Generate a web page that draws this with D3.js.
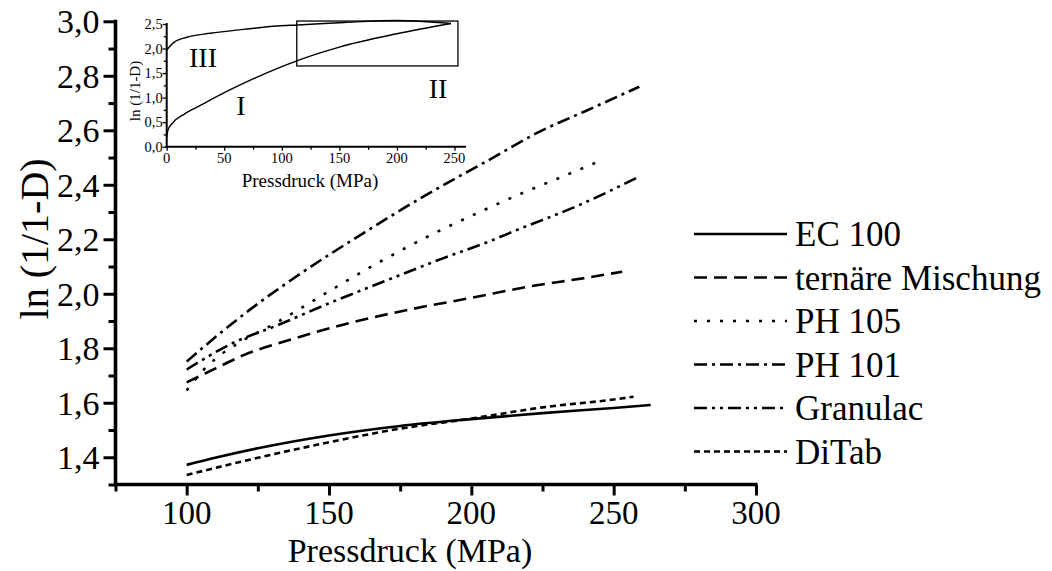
<!DOCTYPE html>
<html>
<head>
<meta charset="utf-8">
<script src="https://cdn.jsdelivr.net/npm/d3@7"></script>
<style>
  html, body { margin: 0; padding: 0; background: #fff; }
  svg { display: block; }
  text { font-family: "Liberation Serif", "Times New Roman", serif; fill: #000; }
</style>
</head>
<body>
<svg id="chart" width="1052" height="571"></svg>
<script>
// ---- data: ln(1/(1-D)) vs. compaction pressure (MPa) ----
const seriesNames = ["EC 100", "ternäre Mischung", "PH 105", "PH 101", "Granulac", "DiTab"];

const ec100P   = [100, 110, 125, 150, 175, 200, 225, 250, 263];
const ec100V   = [1.372, 1.398, 1.433, 1.480, 1.515, 1.540, 1.562, 1.581, 1.592];

const ternaerP = [100, 110, 120, 136, 157, 183, 200, 220, 240, 253];
const ternaerV = [1.675, 1.725, 1.775, 1.830, 1.892, 1.952, 1.985, 2.026, 2.058, 2.081];

const ph105P   = [100, 105, 110, 120, 130, 142, 155, 168, 187, 204, 218, 232, 246];
const ph105V   = [1.645, 1.710, 1.760, 1.830, 1.885, 1.959, 2.040, 2.118, 2.222, 2.305, 2.370, 2.430, 2.491];

const ph101P   = [100, 110, 122, 141, 162, 184, 206, 224, 240, 259];
const ph101V   = [1.751, 1.840, 1.940, 2.081, 2.222, 2.362, 2.490, 2.595, 2.670, 2.760];

const granP    = [100, 116, 132, 150, 169, 190, 206, 216, 238, 259];
const granV    = [1.722, 1.818, 1.885, 1.965, 2.044, 2.130, 2.191, 2.234, 2.326, 2.430];

const ditabP   = [100, 125, 150, 175, 200, 225, 250, 257];
const ditabV   = [1.335, 1.398, 1.455, 1.505, 1.542, 1.583, 1.612, 1.622];

// inset: full compaction cycle (loading branch I, unloading branch III)
const loadP    = [0, 1, 5, 15, 30, 50, 75, 100, 113, 150, 200, 247];
const loadV    = [0.20, 0.33, 0.48, 0.66, 0.85, 1.10, 1.38, 1.63, 1.75, 2.03, 2.30, 2.51];
const unloadP  = [0, 6, 17.5, 38, 67, 96, 114, 154, 200, 247];
const unloadV  = [1.97, 2.12, 2.23, 2.31, 2.39, 2.46, 2.48, 2.53, 2.57, 2.51];
const zoomBoxP = [113, 253];
const zoomBoxV = [1.645, 2.56];

const xTicksMain = [100, 150, 200, 250, 300];
const yTicksMain = [1.4, 1.6, 1.8, 2.0, 2.2, 2.4, 2.6, 2.8, 3.0];
const xTicksInset = [0, 50, 100, 150, 200, 250];
const yTicksInset = [0, 0.5, 1.0, 1.5, 2.0, 2.5];

const dashes = {
  "EC 100": null,
  "ternäre Mischung": "13,7",
  "PH 105": "3,10",
  "PH 101": "13,5,3,5",
  "Granulac": "13,5,3,5,3,5",
  "DiTab": "6,4"
};

const series = [
  { name: "EC 100", p: ec100P, v: ec100V },
  { name: "ternäre Mischung", p: ternaerP, v: ternaerV },
  { name: "PH 105", p: ph105P, v: ph105V },
  { name: "PH 101", p: ph101P, v: ph101V },
  { name: "Granulac", p: granP, v: granV },
  { name: "DiTab", p: ditabP, v: ditabV }
];

const comma = d3.formatLocale({ decimal: ",", thousands: ".", grouping: [3], currency: ["", "€"] });
const f1 = comma.format(".1f");

const svg = d3.select("#chart");
svg.append("rect").attr("width", 1052).attr("height", 571).attr("fill", "#fff");

// ---- main plot ----
const x = d3.scaleLinear().domain([75, 300]).range([115.5, 756]);
const y = d3.scaleLinear().domain([1.3, 3.0]).range([484.5, 21.3]);

const main = svg.append("g");

const line = d3.line().x(d => x(d[0])).y(d => y(d[1])).curve(d3.curveMonotoneX);

series.forEach(s => {
  main.append("path")
    .datum(s.p.map((p, i) => [p, s.v[i]]))
    .attr("d", line)
    .attr("fill", "none")
    .attr("stroke", "#000")
    .attr("stroke-width", 2.6)
    .attr("stroke-dasharray", dashes[s.name]);
});

// x axis
const xAxisG = main.append("g").attr("transform", `translate(0,${y(1.3)})`);
xAxisG.call(d3.axisBottom(x).tickValues(d3.range(75, 301, 25)).tickSize(11).tickFormat(""))
  .call(g => g.selectAll(".tick line").attr("stroke-width", 3)
    .attr("y2", d => (d % 50 === 0 ? 11 : 7)))
  .call(g => g.select(".domain").attr("stroke-width", 3.6).attr("d", `M${x(75) - 1.5},0H${x(300) + 1.5}`));
xAxisG.selectAll("text.lbl").data(xTicksMain).enter().append("text")
  .attr("class", "lbl")
  .attr("x", d => x(d)).attr("y", 524 - y(1.3))
  .attr("text-anchor", "middle").attr("font-size", 33)
  .text(d => d);

// y axis
const yAxisG = main.append("g").attr("transform", `translate(${x(75)},0)`);
yAxisG.call(d3.axisLeft(y).tickValues(d3.range(13, 31).map(v => v / 10)).tickSize(12).tickFormat(""))
  .call(g => g.selectAll(".tick line").attr("stroke-width", 3)
    .attr("x2", d => (Math.round(d * 10) % 2 === 0 ? -12 : -7)))
  .call(g => g.select(".domain").attr("stroke-width", 3.6).attr("d", `M0,${y(3.0) - 1.5}V${y(1.3) + 1.5}`));
yAxisG.selectAll("text.lbl").data(yTicksMain).enter().append("text")
  .attr("class", "lbl")
  .attr("x", -16).attr("y", d => y(d)).attr("dy", "0.35em")
  .attr("text-anchor", "end").attr("font-size", 34)
  .text(d => f1(d));

// axis titles
main.append("text").attr("x", 410).attr("y", 562).attr("text-anchor", "middle")
  .attr("font-size", 34).text("Pressdruck (MPa)");
main.append("text").attr("transform", `translate(34,${(y(3.0) + y(1.3)) / 2 - 14}) rotate(-90)`)
  .attr("text-anchor", "middle").attr("dy", "0.35em")
  .attr("font-size", 40).text("ln (1/1-D)");

// legend
const legend = svg.append("g");
seriesNames.forEach((n, i) => {
  const ly = 234 + i * 43.5;
  legend.append("line").attr("x1", 694).attr("x2", 787).attr("y1", ly).attr("y2", ly)
    .attr("stroke", "#000").attr("stroke-width", 2.6).attr("stroke-dasharray", dashes[n]);
  legend.append("text").attr("x", 795).attr("y", ly).attr("dy", "0.35em")
    .attr("font-size", 35).text(n);
});

// ---- inset: complete cycle ----
const xi = d3.scaleLinear().domain([0, 260]).range([166.7, 466]);
const yi = d3.scaleLinear().domain([0, 2.52]).range([146.7, 23]);
const inset = svg.append("g");

const iline = d3.line().x(d => xi(d[0])).y(d => yi(d[1])).curve(d3.curveMonotoneX);
[[loadP, loadV], [unloadP, unloadV]].forEach(([ps, vs]) => {
  inset.append("path").datum(ps.map((p, i) => [p, vs[i]]))
    .attr("d", iline).attr("fill", "none").attr("stroke", "#000").attr("stroke-width", 1.4);
});

inset.append("rect")
  .attr("x", xi(zoomBoxP[0])).attr("y", yi(zoomBoxV[1]))
  .attr("width", xi(zoomBoxP[1]) - xi(zoomBoxP[0]))
  .attr("height", yi(zoomBoxV[0]) - yi(zoomBoxV[1]))
  .attr("fill", "none").attr("stroke", "#000").attr("stroke-width", 1.3);

const xiG = inset.append("g").attr("transform", `translate(0,${yi(0)})`);
xiG.call(d3.axisBottom(xi).tickValues(d3.range(0, 251, 25)).tickSize(4).tickFormat(""))
  .call(g => g.selectAll(".tick line").attr("stroke-width", 1.3).attr("y2", d => (d % 50 === 0 ? 4 : 3)))
  .call(g => g.select(".domain").attr("stroke-width", 2).attr("d", `M${xi(0) - 1},0H${xi(260)}`));
xiG.selectAll("text.lbl").data(xTicksInset).enter().append("text")
  .attr("class", "lbl")
  .attr("x", d => xi(d)).attr("y", 16.6).attr("text-anchor", "middle")
  .attr("font-size", 14.5).text(d => d);

const yiG = inset.append("g").attr("transform", `translate(${xi(0)},0)`);
yiG.call(d3.axisLeft(yi).tickValues(d3.range(0, 11).map(v => v / 4)).tickSize(4).tickFormat(""))
  .call(g => g.selectAll(".tick line").attr("stroke-width", 1.3).attr("x2", d => (Math.round(d * 4) % 2 === 0 ? -4 : -3)))
  .call(g => g.select(".domain").attr("stroke-width", 2).attr("d", `M0,${yi(2.52)}V${yi(0) + 1}`));
yiG.selectAll("text.lbl").data(yTicksInset).enter().append("text")
  .attr("class", "lbl")
  .attr("x", -4).attr("y", d => yi(d)).attr("dy", "0.35em").attr("text-anchor", "end")
  .attr("font-size", 14.5).text(d => f1(d));

inset.append("text").attr("x", 310).attr("y", 186.7).attr("text-anchor", "middle")
  .attr("font-size", 19).text("Pressdruck (MPa)");
inset.append("text").attr("transform", "translate(134.5,91) rotate(-90)")
  .attr("text-anchor", "middle").attr("dy", "0.35em")
  .attr("font-size", 15).text("ln (1/1-D)");

// regions of the compaction cycle
inset.append("text").attr("x", 203).attr("y", 67).attr("text-anchor", "middle").attr("font-size", 28).text("III");
inset.append("text").attr("x", 241).attr("y", 115).attr("text-anchor", "middle").attr("font-size", 28).text("I");
inset.append("text").attr("x", 438).attr("y", 98).attr("text-anchor", "middle").attr("font-size", 28).text("II");
</script>
</body>
</html>
